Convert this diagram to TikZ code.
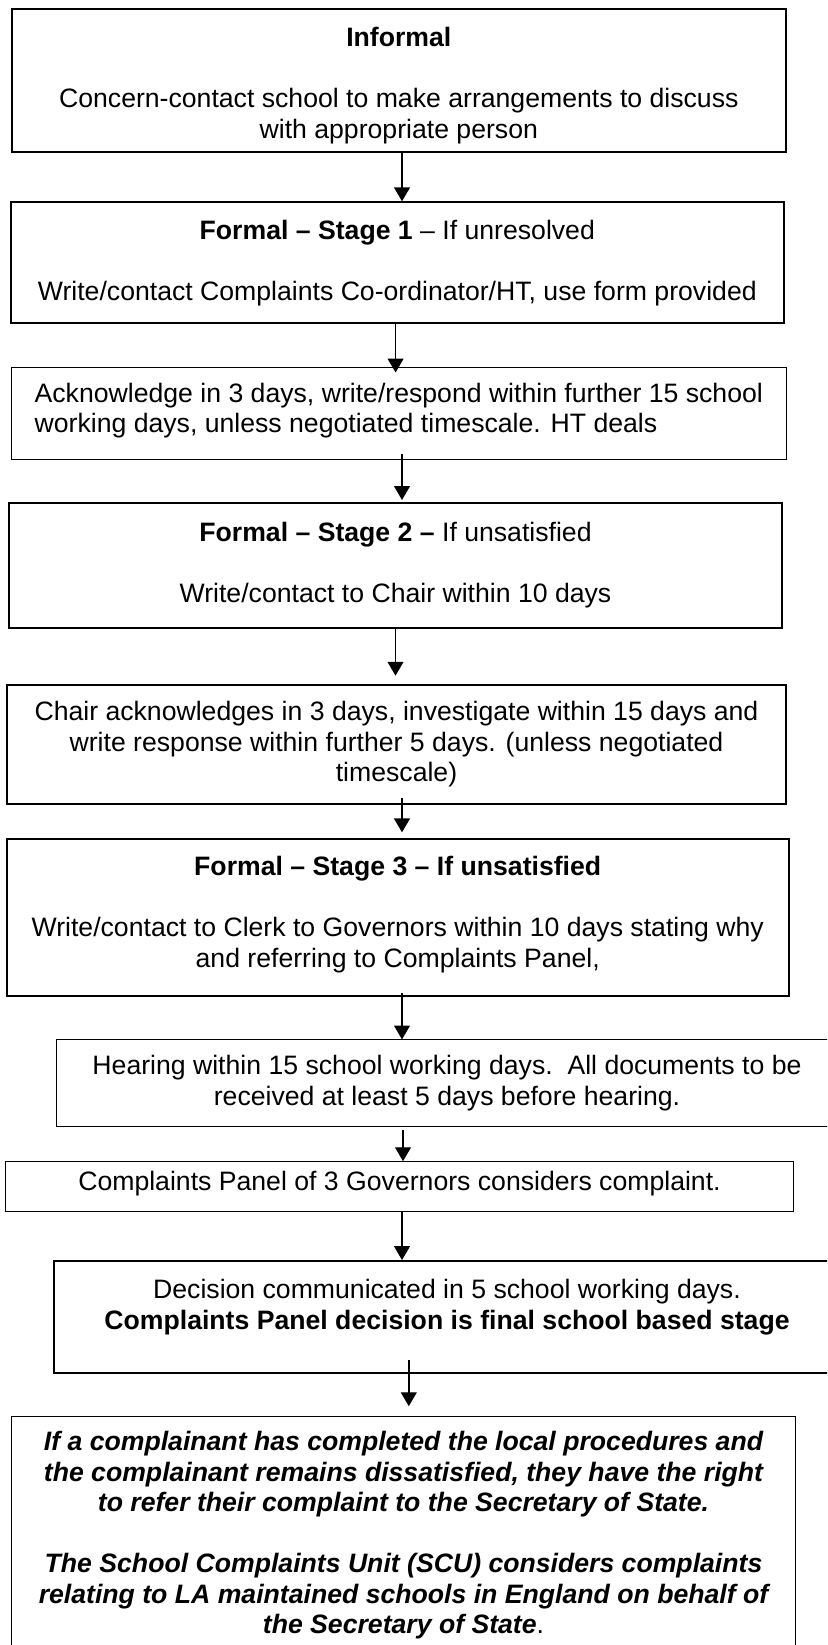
\documentclass[tikz,border=0pt]{standalone}
\usepackage{fontspec}
\setmainfont{Liberation Sans}
\usetikzlibrary{arrows.meta}
\newdimen\px \px=0.4525pt
\newcommand{\bottompad}[1]{\rule[-#1]{0pt}{0pt}}
\newcommand{\toppad}[1]{\rule{0pt}{#1}}

\begin{document}
\begin{tikzpicture}[x=0.4525pt, y=-0.4525pt, >={Triangle[length=6.3pt, width=7.2pt]},
    box/.style={draw, line width=2\px, align=center, inner sep=0pt,
        font=\fontsize{12.05}{13.8}\selectfont},
    lightbox/.style={box, line width=1\px},
    flow/.style={->, line width=1.4\px}]
\clip (0,0) rectangle (827,1645);

\node[box, minimum width=774.4\px, minimum height=142.4\px] (b1) at (398.8,80.5)
    {\toppad{13.2pt}\textbf{Informal}\\[13.8pt]Concern-contact school to make arrangements to discuss\\with appropriate person};
\node[box, minimum width=773.5\px, minimum height=121\px] (b2) at (397.3,262.8)
    {\textbf{Formal -- Stage 1} -- If unresolved\\[13.8pt]Write/contact Complaints Co-ordinator/HT, use form provided};
\node[lightbox, align=left, minimum width=774.4\px, minimum height=91.6\px] (b3) at (398.8,413.5)
    {Acknowledge in 3 days, write/respond within further 15 school\\working days, unless negotiated timescale. HT deals\bottompad{5.2pt}};
\node[box, minimum width=773\px, minimum height=124.4\px] (b4) at (395.5,565.5)
    {\textbf{Formal -- Stage 2 --} If unsatisfied\\[13.8pt]Write/contact to Chair within 10 days};
\node[box, minimum width=779\px, minimum height=119\px] (b5) at (396.5,744.5)
    {Chair acknowledges in 3 days, investigate within 15 days and\\write response within further 5 days. (unless negotiated\\timescale)};
\node[box, minimum width=781.6\px, minimum height=156.7\px] (b6) at (397.7,917.7)
    {\textbf{Formal -- Stage 3 -- If unsatisfied}\\[13.8pt]Write/contact to Clerk to Governors within 10 days stating why\\and referring to Complaints Panel,\bottompad{5.2pt}};
\node[lightbox, minimum width=781.2\px, minimum height=86.7\px] (b7) at (447,1083.3)
    {Hearing within 15 school working days.\ \ All documents to be\\received at least 5 days before hearing.};
\node[lightbox, minimum width=788.5\px, minimum height=50\px] (b8) at (399.5,1186.7)
    {Complaints Panel of 3 Governors considers complaint.\bottompad{5.2pt}};
\node[box, minimum width=786.4\px, minimum height=112.3\px] (b9) at (447,1317.2)
    {Decision communicated in 5 school working days.\\\textbf{Complaints Panel decision is final school based stage}\bottompad{11.6pt}};
\node[lightbox, minimum width=783.8\px, minimum height=249\px,
    font=\fontsize{12.05}{13.8}\selectfont\bfseries\itshape] (b10) at (403.5,1540.5)
    {If a complainant has completed the local procedures and\\the complainant remains dissatisfied, they have the right\\to refer their complaint to the Secretary of State.\\[13.8pt]The School Complaints Unit (SCU) considers complaints\\relating to LA maintained schools in England on behalf of\\the Secretary of State\textup{\textmd{.}}\bottompad{7.3pt}};

\foreach \s/\t/\dx/\ls/\ts in {b1/b2/3.2/0/0, b2/b3/-1.7/0/-5.3, b3/b4/3.2/-6.3/2.3,
    b4/b5/0/0/8.3, b5/b6/5.5/-7.3/6, b6/b7/4.3/-4.3/0, b7/b8/-44/3.3/0,
    b8/b9/2.5/0/0, b9/b10/-38.2/-14/9.3}
{
    \draw[flow, shorten <=\ls\px, shorten >=\ts\px] ([xshift=\dx\px]\s.south) -- ([xshift=\dx\px]\s.south |- \t.north);
}
\end{tikzpicture}
\end{document}
